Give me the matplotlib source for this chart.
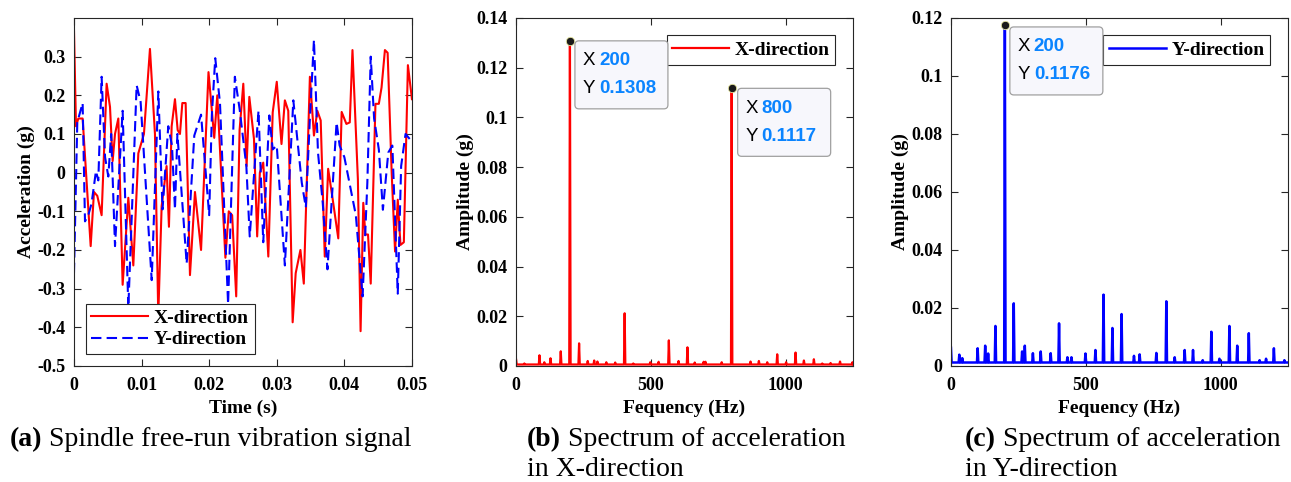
import numpy as np
import matplotlib
matplotlib.use("Agg")
import matplotlib.pyplot as plt
from matplotlib.patches import FancyBboxPatch
from matplotlib.ticker import FuncFormatter
import matplotlib.transforms as mtrans

plt.rcParams['font.family'] = ['Liberation Serif', 'DejaVu Serif']
plt.rcParams['axes.unicode_minus'] = False

# (a) time signal, t in ms
t_x = [0, 0.30, 0.64, 1.28, 2.47, 2.96, 3.45, 4.09, 4.83, 5.33, 5.72, 6.07, 6.56, 7.2, 8.04,
       8.78, 9.52, 10.35, 11.24, 11.98, 12.47, 12.97, 13.7, 14.05, 14.45, 14.94, 15.34, 15.68,
       16.03, 16.52, 17.16, 17.9, 18.8, 19.9, 20.75, 21.2, 21.6, 22.4, 22.9, 23.4, 24.0, 24.5,
       25.05, 25.54, 25.94, 26.63, 27.1, 27.5, 28.0, 28.75, 29.4, 30.0, 30.7, 31.2, 31.7, 32.35,
       32.8, 33.5, 34.0, 34.9, 35.5, 36.0, 36.5, 37.1, 37.6, 38.2, 39.1, 39.6, 40.3, 40.8, 41.2,
       42.0, 42.4, 42.8, 43.1, 43.5, 43.9, 44.6, 45.1, 45.5, 46.0, 46.4, 47.0, 47.5, 47.9, 48.3,
       48.8, 49.4, 50.0]
acc_x = [0.37, 0.12, 0.14, 0.14, -0.19, -0.05, -0.06, -0.11, 0.23, 0.17, 0.03, 0.10, 0.14, -0.29,
         -0.065, -0.24, 0.05, 0.10, 0.32, 0.10, -0.37, -0.087, 0.017, -0.14, 0.12, 0.19, 0.11, 0.10,
         0.18, 0.18, -0.265, -0.05, -0.20, 0.26, 0.09, 0.20, 0.06, -0.22, -0.10, -0.11, -0.32, 0.11,
         0.23, 0.017, 0.196, 0.087, -0.165, 0.0, 0.026, -0.217, 0.156, 0.235, 0.074, 0.187, 0.16, -0.387,
         -0.26, -0.20, -0.287, 0.248, 0.096, 0.16, 0.135, -0.217, 0.01, -0.06, -0.17, 0.157, 0.126, 0.13, 0.317,
         -0.017, -0.41, -0.078, -0.16, -0.16, -0.287, 0.178, 0.178, 0.22, 0.317, 0.31, 0.0, -0.204, -0.07, -0.187,
         -0.18, 0.278, 0.19]

t_y = [0, 0.49, 1.28, 1.63, 2.12, 2.6, 3.25, 3.6, 4.09, 4.6, 5.08, 5.5, 6.07, 7.2, 8.04, 9.27, 9.86,
       11.5, 12.48, 13.1, 13.95, 14.5, 14.94, 15.3, 16.67, 17.8, 18.8, 20.0, 20.4, 20.9, 21.6, 22.8,
       23.8, 24.5, 25.5, 26.0, 27.3, 28.0, 28.9, 29.4, 30.0, 31.2, 32.45, 33.7, 34.3, 34.9, 35.5, 36.1,
       36.8, 37.5, 38.85, 39.3, 40.0, 41.7, 42.7, 43.4, 43.9, 44.4, 45.1, 45.7, 46.5, 47.1, 47.9, 48.4,
       49.05, 50.0]
acc_y = [-0.26, 0.13, 0.18, -0.126, -0.11, -0.08, 0.004, -0.02, 0.248, 0.04, -0.01, 0.10, -0.19, 0.16,
         -0.35, 0.226, 0.183, -0.278, 0.21, -0.095, 0.12, 0.07, -0.095, 0.10, -0.235, 0.096, 0.15, -0.11,
         0.15, 0.296, 0.18, -0.34, 0.248, 0.165, 0.017, -0.165, 0.16, -0.18, 0.148, 0.06, 0.07, -0.24, 0.187,
         -0.026, -0.09, 0.14, 0.343, 0.052, -0.078, -0.25, 0.13, 0.07, 0.04, -0.11, -0.32, -0.026, 0.30, 0.14,
         0.06, -0.096, 0.052, 0.07, -0.313, 0.017, 0.10, 0.08]

# (b) spectrum X: peak frequencies (Hz) and amplitudes (g)
fx_freq = [0, 31, 87, 105, 128, 166, 200, 234, 266, 290, 302, 335, 368, 403, 435, 498, 529, 567, 603,
           636, 663, 696, 703, 763, 800, 870, 901, 932, 969, 1002, 1037, 1068, 1105, 1136, 1167, 1202, 1248]
fx_amp = [0.0028, 0.0010, 0.0043, 0.0015, 0.0031, 0.0059, 0.1308, 0.0091, 0.0020, 0.0022, 0.0018, 0.0015,
          0.0014, 0.0212, 0.0010, 0.0015, 0.0017, 0.0103, 0.0020, 0.0075, 0.0014, 0.0017, 0.0017, 0.0015,
          0.1117, 0.0018, 0.0020, 0.0015, 0.0047, 0.0015, 0.0054, 0.0022, 0.0027, 0.0010, 0.0012, 0.0018, 0.0015]
fx_floor = 0.0006

# (c) spectrum Y
fy_freq = [0, 31, 42, 99, 127, 138, 165, 200, 233, 264, 274, 304, 333, 370, 401, 432, 447, 499, 536, 566,
           599, 633, 679, 700, 762, 799, 830, 867, 898, 934, 966, 996, 1033, 1062, 1105, 1145, 1169, 1198, 1237]
fy_amp = [0.0063, 0.0039, 0.0027, 0.0061, 0.0070, 0.0043, 0.0138, 0.1176, 0.0216, 0.0050, 0.0070, 0.0044,
          0.0050, 0.0044, 0.0147, 0.0030, 0.0030, 0.0043, 0.0055, 0.0246, 0.0131, 0.0179, 0.0035, 0.0040,
          0.0045, 0.0223, 0.0030, 0.0055, 0.0055, 0.0020, 0.0118, 0.0025, 0.0138, 0.0070, 0.0113, 0.0020,
          0.0025, 0.0061, 0.0020]
fy_floor = 0.0012

tips_b = [(200, 0.1308, (5, -68)), (800, 0.1117, (6, -68))]
tips_c = [(200, 0.1176, (5, -70))]


def spikes(freqs, amps, floor, fmax=1250, hw=2.5):
    xs, ys = [], []
    for f, a in zip(freqs, amps):
        if f <= 0:
            xs += [0, hw]
            ys += [a, floor]
        else:
            xs += [f - hw, f, f + hw]
            ys += [floor, a, floor]
    xs.append(fmax)
    ys.append(floor)
    return np.array(xs), np.array(ys)


def style_axes(ax):
    ax.tick_params(direction='in', length=5, width=0.8, top=True, right=True,
                   labelsize=13, colors='#262626', pad=6)
    ax.tick_params(axis='x', pad=8)
    for lab in ax.get_xticklabels() + ax.get_yticklabels():
        lab.set_fontweight('bold')
        lab.set_color('black')
    for s in ax.spines.values():
        s.set_color('#262626')
        s.set_linewidth(0.8)


def add_tip(fig, ax, x, y, off, value_color='#0a84ff'):
    px, py = ax.transData.transform((x, y))
    T = mtrans.Affine2D().translate(px, py)
    w, h = 93, 68
    box = FancyBboxPatch((off[0], off[1]), w, h, boxstyle='round,pad=0,rounding_size=4',
                         transform=T, facecolor='#f7f7fc', edgecolor='#a0a0a0', lw=0.9,
                         clip_on=False, zorder=5)
    fig.add_artist(box)
    ax.plot([x], [y], 'o', ms=6, color='#1a1a1a', mec='#e6e6a0', mew=0.6, zorder=6, clip_on=False)
    tf = dict(fontfamily=['Liberation Sans', 'DejaVu Sans'], fontsize=13.5, transform=T, va='center',
              zorder=7)
    fig.text(off[0] + 8, off[1] + h - 20, 'X', color='black', **tf)
    fig.text(off[0] + 8, off[1] + h - 48, 'Y', color='black', **tf)
    fig.text(off[0] + 24, off[1] + h - 20, '%g' % x, color=value_color, fontweight='bold', **tf)
    fig.text(off[0] + 24, off[1] + h - 48, '%.4f' % y, color=value_color, fontweight='bold', **tf)


fig = plt.figure(figsize=(12.91, 4.82), dpi=100)
ax1 = fig.add_axes([0.0573, 0.2407, 0.2618, 0.722])
ax2 = fig.add_axes([0.3997, 0.2407, 0.2610, 0.722])
ax3 = fig.add_axes([0.7366, 0.2407, 0.2610, 0.722])

fmt = FuncFormatter(lambda v, p: '%g' % round(v, 6))

# (a)
ax1.plot(np.array(t_x) / 1000, acc_x, color='#ff0000', lw=1.5, label='X-direction')
ax1.plot(np.array(t_y) / 1000, acc_y, color='#0000ff', lw=1.5, ls=(0, (5, 2.5)), label='Y-direction')
ax1.set_xlim(0, 0.05)
ax1.set_ylim(-0.5, 0.4)
ax1.set_xticks([0, 0.01, 0.02, 0.03, 0.04, 0.05])
ax1.set_yticks([-0.5, -0.4, -0.3, -0.2, -0.1, 0, 0.1, 0.2, 0.3])
ax1.xaxis.set_major_formatter(fmt)
ax1.yaxis.set_major_formatter(fmt)
ax1.set_xlabel('Time (s)', fontsize=14, fontweight='bold', labelpad=4)
ax1.set_ylabel('Acceleration (g)', fontsize=14, fontweight='bold', labelpad=2)
leg = ax1.legend(loc='lower left', prop=dict(size=14, weight='bold'), handlelength=2.9,
                 fancybox=False, edgecolor='#262626', framealpha=1, borderaxespad=0.6,
                 labelspacing=0.2, borderpad=0.3, handletextpad=0.3)
leg.get_frame().set_linewidth(0.8)

# (b)
xb, yb = spikes(fx_freq, fx_amp, fx_floor)
ax2.plot(xb, yb, color='#ff0000', lw=1.6, label='X-direction')
ax2.set_xlim(0, 1250)
ax2.set_ylim(0, 0.14)
ax2.set_xticks([0, 500, 1000])
ax2.set_yticks(np.arange(0, 0.141, 0.02))
ax2.yaxis.set_major_formatter(fmt)
ax2.set_xlabel('Fequency (Hz)', fontsize=14, fontweight='bold', labelpad=4)
ax2.set_ylabel('Amplitude (g)', fontsize=14, fontweight='bold', labelpad=2)
leg = ax2.legend(loc='upper right', prop=dict(size=14, weight='bold'), handlelength=2.9,
                 fancybox=False, edgecolor='#262626', framealpha=1, borderaxespad=0.9,
                 borderpad=0.3, handletextpad=0.3)
leg.get_frame().set_linewidth(0.8)

# (c)
xc, yc = spikes(fy_freq, fy_amp, fy_floor)
ax3.plot(xc, yc, color='#0000ff', lw=1.8, label='Y-direction')
ax3.set_xlim(0, 1250)
ax3.set_ylim(0, 0.12)
ax3.set_xticks([0, 500, 1000])
ax3.set_yticks(np.arange(0, 0.121, 0.02))
ax3.yaxis.set_major_formatter(fmt)
ax3.set_xlabel('Fequency (Hz)', fontsize=14, fontweight='bold', labelpad=4)
ax3.set_ylabel('Amplitude (g)', fontsize=14, fontweight='bold', labelpad=2)
leg = ax3.legend(loc='upper right', prop=dict(size=14, weight='bold'), handlelength=2.9,
                 fancybox=False, edgecolor='#262626', framealpha=1, borderaxespad=0.9,
                 borderpad=0.3, handletextpad=0.3)
leg.get_frame().set_linewidth(0.8)

for ax in (ax1, ax2, ax3):
    style_axes(ax)

for x, y, off in tips_b:
    add_tip(fig, ax2, x, y, off)
for x, y, off in tips_c:
    add_tip(fig, ax3, x, y, off)

# captions
captions = [(10, 440, '(a)', ' Spindle free-run vibration signal', None),
            (527, 440, '(b)', ' Spectrum of acceleration', 'in X-direction'),
            (965, 440, '(c)', ' Spectrum of acceleration', 'in Y-direction')]
for cx, cy, tag, rest, line2 in captions:
    t1 = fig.text(cx / 1291, 1 - cy / 482, tag, fontsize=20, fontweight='bold', va='center')
    ax1.annotate(rest, xy=(1, 0.5), xycoords=t1, va='center', ha='left', fontsize=20,
                 annotation_clip=False)
    if line2:
        fig.text(cx / 1291, 1 - (cy + 29) / 482, line2, fontsize=20, va='center')

fig.savefig('out.png', dpi=100)
